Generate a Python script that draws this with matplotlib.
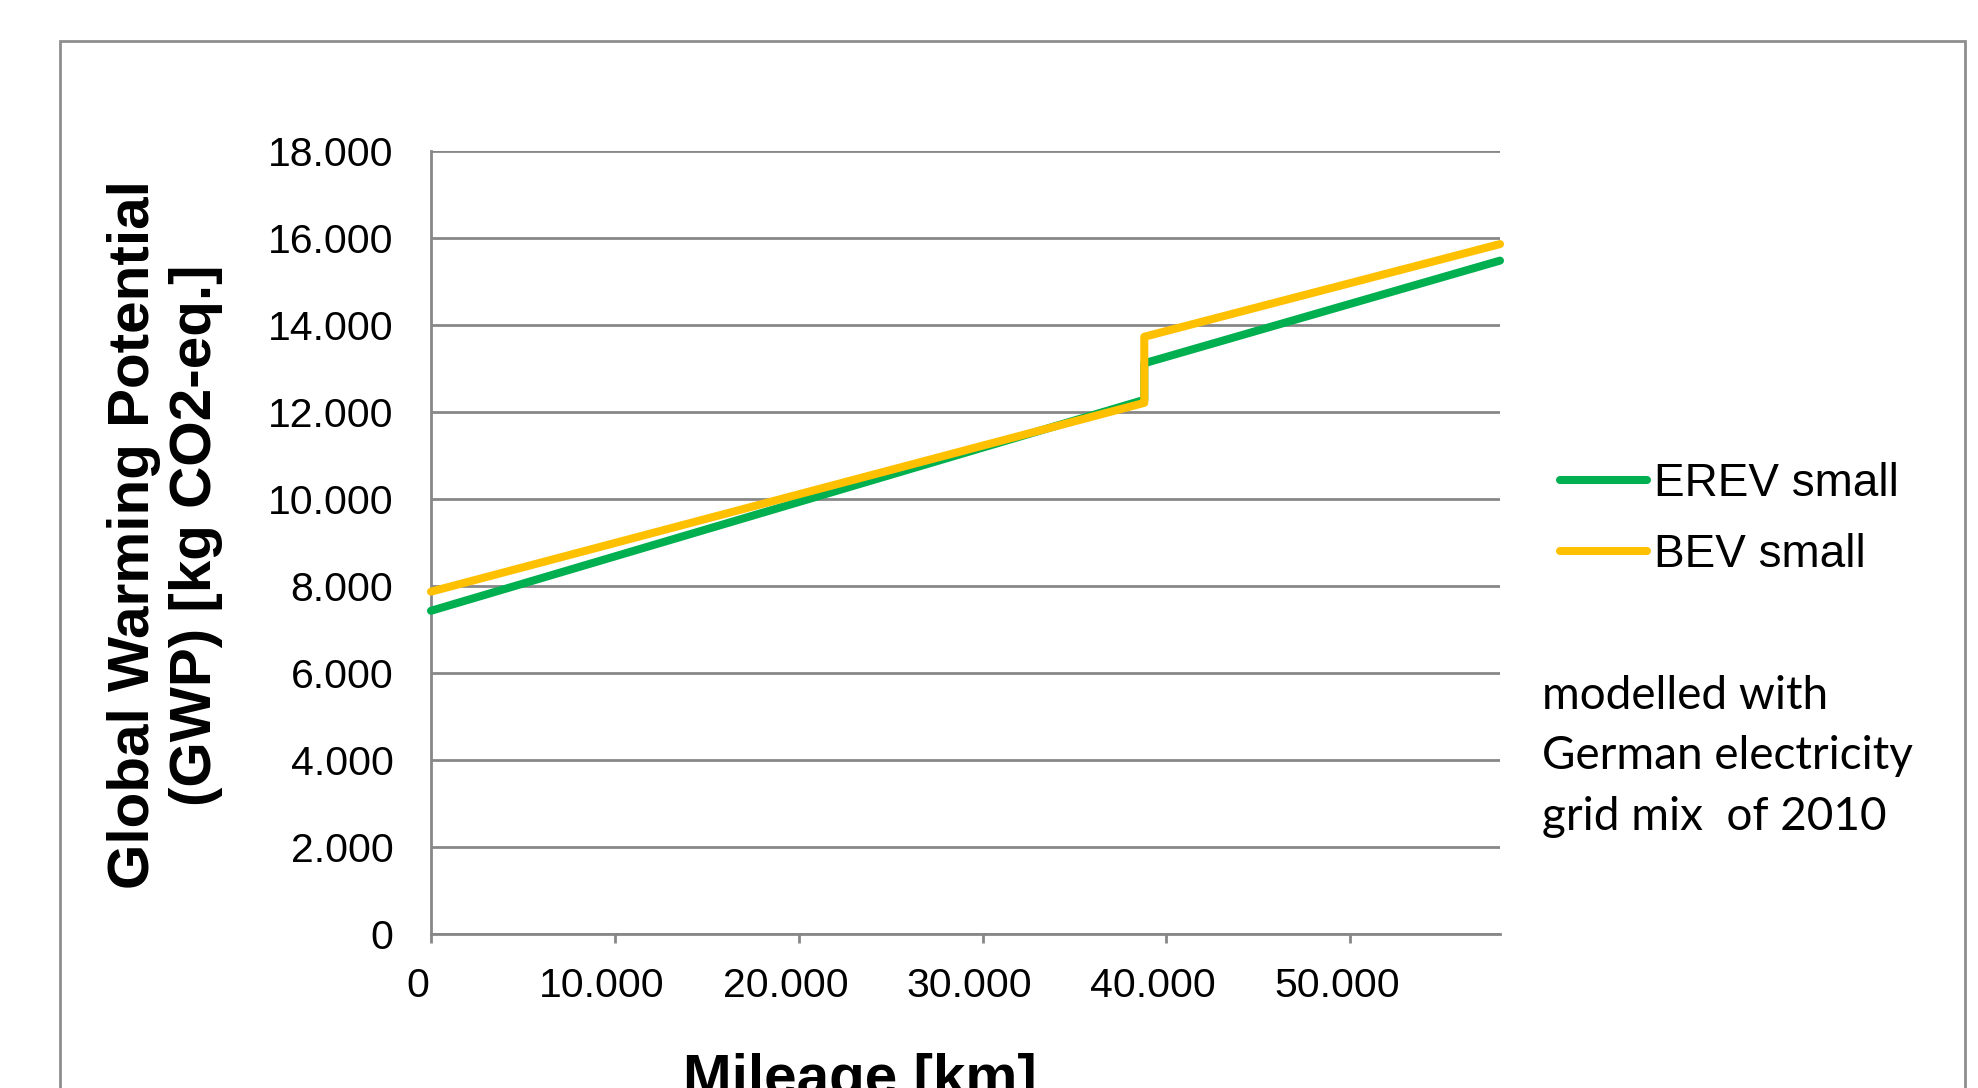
import matplotlib
matplotlib.use("Agg")
import matplotlib.pyplot as plt
import matplotlib.patches as mpatches
from matplotlib.transforms import ScaledTranslation

# values
mileage_km = [0, 38800, 38800, 58150]
erev_small = [7430, 12280, 13120, 15480]
bev_small = [7870, 12210, 13730, 15860]

x_ticks = [0, 10000, 20000, 30000, 40000, 50000]
x_tick_labels = ["0", "10.000", "20.000", "30.000", "40.000", "50.000"]
y_ticks = [0, 2000, 4000, 6000, 8000, 10000, 12000, 14000, 16000, 18000]
y_tick_labels = ["0", "2.000", "4.000", "6.000", "8.000", "10.000",
                 "12.000", "14.000", "16.000", "18.000"]

series_names = ["EREV small", "BEV small"]
note_text = "modelled with\nGerman electricity\ngrid mix  of 2010"

GREEN = "#00B050"
YELLOW = "#FFC000"
GRID = "#878787"

W, H = 1978, 1088
plt.rcParams["font.family"] = ["Liberation Sans", "DejaVu Sans"]

fig = plt.figure(figsize=(W / 100, H / 100), dpi=100)

# outer chart frame (runs off the bottom of the picture)
frame = mpatches.Rectangle((60 / W, -0.1), (1965 - 60) / W, (1 - 41 / H) + 0.1,
                           transform=fig.transFigure, fill=False,
                           edgecolor="#8e8e8e", linewidth=2.0)
fig.patches.append(frame)

ax = fig.add_axes([431 / W, (H - 934) / H, (1500 - 431) / W, (934 - 151) / H])

ax.plot(mileage_km, erev_small, color=GREEN, linewidth=5.8,
        solid_capstyle="round", solid_joinstyle="round", clip_on=False,
        label=series_names[0], zorder=3)
ax.plot(mileage_km, bev_small, color=YELLOW, linewidth=5.8,
        solid_capstyle="round", solid_joinstyle="round", clip_on=False,
        label=series_names[1], zorder=4)

ax.set_xlim(0, 58150)
ax.set_ylim(0, 18000)
ax.set_xticks(x_ticks)
ax.set_xticklabels(x_tick_labels)
ax.set_yticks(y_ticks)
ax.set_yticklabels(y_tick_labels)

ax.grid(axis="y", color=GRID, linewidth=2.0)
ax.set_axisbelow(True)
for side in ["top", "right"]:
    ax.spines[side].set_visible(False)
for side in ["left", "bottom"]:
    ax.spines[side].set_color(GRID)
    ax.spines[side].set_linewidth(2.0)

ax.tick_params(axis="y", length=0, pad=27, labelsize=29.5)
ax.tick_params(axis="x", length=6.5, width=2.0, color=GRID, pad=17.5, labelsize=29.5)

# Excel puts the x labels slightly left of the ticks
shift = ScaledTranslation(-13 / 100, 0, fig.dpi_scale_trans)
for lab in ax.get_xticklabels():
    lab.set_transform(lab.get_transform() + shift)

fig.text(165 / W, 1 - 535 / H, "Global Warming Potential\n(GWP) [kg CO2-eq.]",
         rotation=90, ha="center", va="center", multialignment="center",
         fontsize=42, fontweight="bold", linespacing=1.2)
fig.text(860 / W, 1 - 1095 / H, "Mileage [km]", ha="center", va="baseline",
         fontsize=42, fontweight="bold")

leg = ax.legend(loc="center left", bbox_to_anchor=(1560 / W, 1 - 519.5 / H),
                bbox_transform=fig.transFigure, frameon=False, fontsize=33,
                handlelength=1.9, handletextpad=0.15, labelspacing=0.58,
                borderpad=0, borderaxespad=0)

# va="baseline" on multi-line text anchors the last line
fig.text(1542 / W, 1 - 830 / H, note_text, ha="left", va="baseline",
         fontsize=33, family=["Lato", "DejaVu Sans"], linespacing=1.55)

fig.savefig("out.png", dpi=100)
